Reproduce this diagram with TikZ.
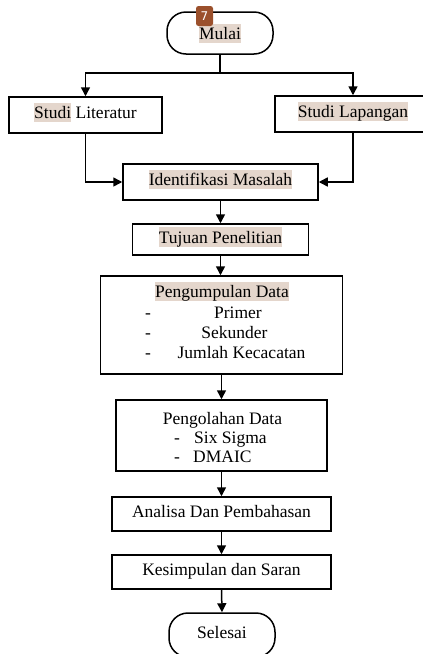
\documentclass[tikz,border=0pt]{standalone}
\usepackage{fontspec}
\setmainfont{Liberation Serif}
\usetikzlibrary{arrows.meta}
\definecolor{hl}{HTML}{E4D6CC}
\definecolor{badge}{HTML}{9B502C}
\newcommand{\hlt}[1]{{\setlength{\fboxsep}{0pt}\colorbox{hl}{\rule[-0.2em]{0pt}{1.1em}#1}}}
\tikzset{
  base/.style={font=\fontsize{17.5}{20}\selectfont, text height=0.9em, text depth=0.2em},
  box/.style={base, draw, line width=1.5pt, inner sep=0pt, align=center},
  term/.style={box, rounded corners=19pt},
  txt/.style={base, inner sep=0pt},
  arr/.style={line width=1.5pt, -{Triangle[length=9pt,width=9pt]}},
  ln/.style={line width=1.5pt}
}
\begin{document}
\begin{tikzpicture}[x=1pt,y=-1pt]
\useasboundingbox (0,0) rectangle (423,654);
\fill[white] (0,0) rectangle (423,654);
\clip (0,0) rectangle (423,654);
% nodes
\node[term, minimum width=106pt, minimum height=42pt] (mulai) at (220,33) {};
\node[txt] (mulaiT) at (220,36) {\hlt{Mulai}};
\node[box, minimum width=153pt, minimum height=36pt] (lit) at (85.5,115) {\hlt{Studi} Literatur};
\node[box, minimum width=156pt, minimum height=36pt] (lap) at (353,114) {\hlt{Studi Lapangan}};
\node[box, minimum width=195pt, minimum height=36pt] (ident) at (220.5,182) {\hlt{Identifikasi Masalah}};
\node[box, minimum width=176pt, minimum height=31pt] (tujuan) at (220.5,239.5) {\hlt{Tujuan Penelitian}};
\node[box, minimum width=242pt, minimum height=98pt] (kumpul) at (221.5,325) {};
\node[txt] (kumpulT) at (222,294) {\hlt{Pengumpulan Data}};
\node[txt] (k1d) at (148,315) {-};
\node[txt] (k2d) at (148,335) {-};
\node[txt] (k3d) at (148,355) {-};
\node[txt] (k1) at (238,315) {Primer};
\node[txt] (k2) at (234.5,335) {Sekunder};
\node[txt] (k3) at (241.5,355) {Jumlah Kecacatan};
\node[box, minimum width=211pt, minimum height=71pt] (olah) at (221.5,435.5) {};
\node[txt] (olahT) at (222.5,421) {Pengolahan Data};
\node[txt] (o1d) at (177,440) {-};
\node[txt] (o2d) at (177,459) {-};
\node[txt, anchor=west] (o1) at (194,440) {Six Sigma};
\node[txt, anchor=west] (o2) at (193,459) {DMAIC};
\node[box, minimum width=219pt, minimum height=34pt] (analisa) at (221.5,514) {Analisa Dan Pembahasan};
\node[box, minimum width=219pt, minimum height=34pt] (kesim) at (221.5,572) {Kesimpulan dan Saran};
\node[term, minimum width=106pt, minimum height=44pt] (selesai) at (222,635) {Selesai};
% badge
\node[fill=badge, rounded corners=2.5pt, minimum width=17pt, minimum height=20pt, inner sep=0pt,
  text=white, font=\fontspec{DejaVu Sans}\fontsize{12}{12}\selectfont] (badge) at (204.5,16) {7};
% connectors
\draw[ln] (mulai.south) -- ++(0,18) coordinate (split);
\draw[arr] (split) -| (lit.north);
\draw[arr] (split) -| (lap.north);
\draw[arr] (lit.south) |- (ident.west);
\draw[arr] (lap.south) |- (ident.east);
\draw[arr] (ident.south) -- (tujuan.north);
\draw[arr] (tujuan.south) -- (kumpul.north -| tujuan.south);
\draw[arr] (kumpul.south) -- (olah.north);
\draw[arr] (olah.south) -- (analisa.north);
\draw[arr] (analisa.south) -- (kesim.north);
\draw[arr] (kesim.south) -- (selesai.north);
\end{tikzpicture}
\end{document}
